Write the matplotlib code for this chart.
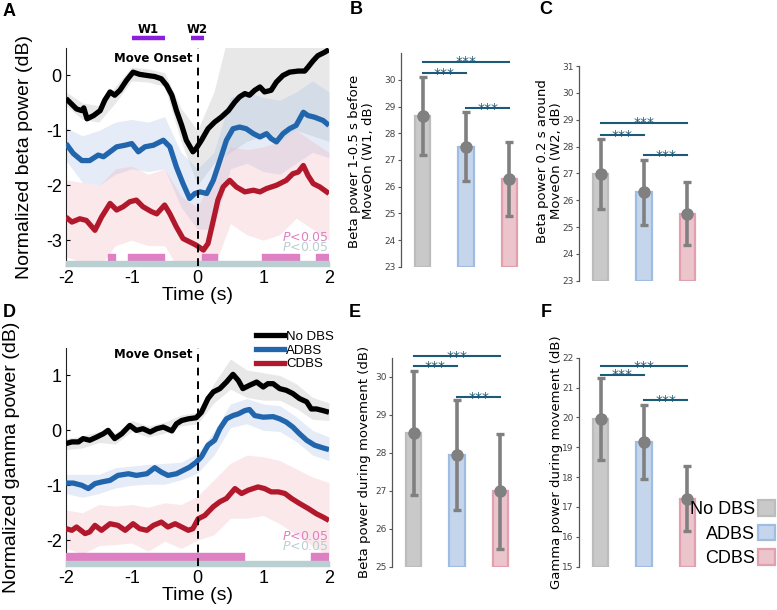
import matplotlib
matplotlib.use("Agg")
import matplotlib.pyplot as plt
from matplotlib.patches import Patch
from matplotlib.lines import Line2D

plt.rcParams['axes.unicode_minus'] = False

# ---------------- data ----------------
conds = ['No DBS', 'ADBS', 'CDBS']
line_colors = ['#000000', '#2166ac', '#b2182b']
band_colors = ['#b5b5b5', '#a9c3e6', '#f2b3bd']
bar_faces = ['#c9c9c9', '#c5d6ec', '#ecc4cc']
bar_edges = ['#bcbcbc', '#9fbde2', '#e2a0ae']

# panel A: beta traces
beta_t_nodbs = [-2.00, -1.84, -1.76, -1.73, -1.68, -1.58, -1.48, -1.41, -1.33, -1.26, -1.18, -1.08, -0.98,
                -0.88, -0.77, -0.65, -0.55, -0.47, -0.39, -0.32, -0.24, -0.17, -0.07, -0.02, 0.06, 0.16,
                0.26, 0.36, 0.47, 0.57, 0.64, 0.72, 0.79, 0.87, 0.95, 1.02, 1.12, 1.20, 1.30, 1.40, 1.53,
                1.63, 1.68, 1.76, 1.83, 1.93, 2.00]
beta_nodbs = [-0.42, -0.61, -0.64, -0.59, -0.79, -0.73, -0.64, -0.45, -0.30, -0.36, -0.27, -0.09, 0.06,
              0.02, 0.00, -0.02, -0.06, -0.18, -0.36, -0.64, -0.91, -1.18, -1.39, -1.33, -1.18, -0.97,
              -0.85, -0.76, -0.64, -0.48, -0.39, -0.33, -0.36, -0.27, -0.21, -0.30, -0.27, -0.12, 0.00, 0.06, 0.08,
              0.08, 0.15, 0.27, 0.36, 0.42, 0.47]
beta_t_adbs = [-2.00, -1.89, -1.76, -1.64, -1.51, -1.43, -1.33, -1.23, -1.10, -1.00, -0.90, -0.80, -0.67,
               -0.52, -0.42, -0.32, -0.22, -0.12, -0.04, 0.04, 0.14, 0.24, 0.34, 0.44, 0.54, 0.64, 0.74,
               0.85, 0.95, 1.05, 1.12, 1.20, 1.30, 1.40, 1.50, 1.61, 1.68, 1.78, 1.91, 2.00]
beta_adbs = [-1.24, -1.42, -1.55, -1.55, -1.45, -1.48, -1.39, -1.30, -1.27, -1.24, -1.39, -1.30, -1.27,
             -1.18, -1.30, -1.67, -1.97, -2.24, -2.15, -2.12, -2.15, -1.91, -1.55, -1.18, -0.97, -0.94, -0.97,
             -1.06, -1.12, -1.06, -1.15, -1.21, -1.06, -0.97, -0.91, -0.67, -0.73, -0.76, -0.82, -0.91]
beta_t_cdbs = [-2.00, -1.91, -1.79, -1.69, -1.56, -1.46, -1.33, -1.23, -1.13, -1.03, -0.93, -0.83, -0.70,
               -0.62, -0.50, -0.42, -0.32, -0.22, -0.12, -0.02, 0.09, 0.16, 0.24, 0.31, 0.39, 0.49, 0.59,
               0.72, 0.85, 0.95, 1.05, 1.20, 1.35, 1.45, 1.53, 1.61, 1.68, 1.76, 1.86, 2.00]
beta_cdbs = [-2.58, -2.67, -2.61, -2.64, -2.82, -2.58, -2.33, -2.45, -2.39, -2.30, -2.27, -2.39, -2.48,
             -2.52, -2.36, -2.52, -2.76, -2.97, -3.03, -3.09, -3.18, -3.06, -2.64, -2.27, -2.03, -1.91, -2.03,
             -2.12, -2.09, -2.12, -2.06, -2.00, -1.91, -1.79, -1.76, -1.64, -1.82, -1.97, -2.03, -2.15]

band_t = [-2, -1.75, -1.5, -1.25, -1, -0.75, -0.5, -0.25, 0, 0.25, 0.5, 0.75, 1, 1.25, 1.5, 1.75, 2]
beta_nodbs_hi = [-0.3, -0.5, -0.55, -0.2, 0.15, 0.12, 0.05, -0.6, -1.0, -0.3, 0.9, 0.9, 0.9, 0.9, 0.9, 0.9, 0.9]
beta_nodbs_lo = [-0.55, -0.8, -0.85, -0.5, -0.1, -0.12, -0.2, -1.2, -2.0, -1.6, -1.4, -1.2, -1.1, -1.2, -1.0, -1.1, -1.2]
beta_adbs_hi = [-0.95, -1.1, -1.0, -0.85, -0.8, -0.85, -0.75, -1.4, -1.7, -1.4, -0.4, -0.3, -0.4, -0.45, -0.3, -0.1, -0.3]
beta_adbs_lo = [-1.55, -1.95, -2.0, -1.8, -1.7, -1.75, -1.7, -2.4, -2.8, -2.8, -1.7, -1.6, -1.75, -1.8, -1.6, -1.4, -1.5]
beta_cdbs_hi = [-1.9, -1.95, -2.0, -1.7, -1.65, -1.8, -1.7, -2.2, -2.4, -1.8, -1.3, -1.35, -1.3, -1.2, -1.0, -1.2, -1.4]
beta_cdbs_lo = [-3.3, -3.4, -3.5, -3.1, -3.0, -3.1, -3.1, -3.6, -3.8, -3.5, -2.7, -2.9, -3.0, -2.9, -2.6, -2.8, -3.0]

beta_sig_pink = [(-1.357, -1.256), (-1.053, -0.508), (0.073, 0.294), (0.977, 1.539), (1.797, 2.0)]
beta_sig_gray = [(-2.0, 2.0)]
windows = [('W1', -1.0, -0.5), ('W2', -0.1, 0.1)]

# panel D: gamma traces
gam_t_nodbs = [-2.00, -1.91, -1.81, -1.74, -1.64, -1.53, -1.43, -1.36, -1.26, -1.15, -1.03, -0.93, -0.83,
               -0.72, -0.62, -0.52, -0.39, -0.32, -0.24, -0.14, -0.02, 0.06, 0.16, 0.24, 0.34, 0.44, 0.54,
               0.62, 0.69, 0.79, 0.90, 1.00, 1.07, 1.15, 1.25, 1.35, 1.45, 1.55, 1.66, 1.73, 1.81, 1.91, 2.00]
gam_nodbs = [-0.24, -0.21, -0.21, -0.15, -0.18, -0.12, -0.06, 0.00, -0.15, -0.06, 0.09, 0.00, 0.03,
             -0.03, 0.03, 0.06, -0.01, 0.12, 0.18, 0.21, 0.23, 0.33, 0.58, 0.70, 0.76, 0.88, 1.02,
             0.91, 0.76, 0.82, 0.88, 0.79, 0.85, 0.85, 0.76, 0.73, 0.67, 0.58, 0.52, 0.39, 0.39, 0.36, 0.33]
gam_t_adbs = [-2.00, -1.89, -1.76, -1.66, -1.56, -1.46, -1.33, -1.21, -1.05, -0.93, -0.77, -0.65, -0.55,
              -0.45, -0.32, -0.22, -0.12, -0.02, 0.06, 0.16, 0.26, 0.34, 0.44, 0.54, 0.62, 0.72, 0.79,
              0.87, 1.00, 1.15, 1.25, 1.35, 1.45, 1.55, 1.66, 1.78, 1.91, 2.00]
gam_adbs = [-0.96, -0.96, -1.00, -1.06, -0.97, -0.94, -0.91, -0.82, -0.79, -0.82, -0.79, -0.68, -0.76,
            -0.82, -0.79, -0.73, -0.67, -0.58, -0.48, -0.27, -0.18, 0.03, 0.21, 0.27, 0.30, 0.36, 0.38,
            0.27, 0.24, 0.25, 0.21, 0.15, 0.06, -0.06, -0.18, -0.27, -0.32, -0.35]
gam_t_cdbs = [-2.00, -1.91, -1.84, -1.71, -1.64, -1.56, -1.46, -1.33, -1.21, -1.10, -0.98, -0.88, -0.77,
              -0.67, -0.55, -0.45, -0.34, -0.24, -0.14, -0.07, 0.01, 0.11, 0.24, 0.34, 0.44, 0.57, 0.67,
              0.77, 0.92, 1.02, 1.12, 1.23, 1.33, 1.43, 1.55, 1.68, 1.81, 1.91, 2.00]
gam_cdbs = [-1.79, -1.82, -1.76, -1.88, -1.85, -1.73, -1.82, -1.70, -1.73, -1.82, -1.70, -1.79, -1.82,
            -1.73, -1.67, -1.76, -1.70, -1.76, -1.82, -1.79, -1.61, -1.55, -1.39, -1.30, -1.24, -1.06, -1.15,
            -1.09, -1.03, -1.06, -1.12, -1.12, -1.15, -1.24, -1.33, -1.42, -1.52, -1.58, -1.64]

gam_nodbs_hi = [-0.15, -0.1, -0.02, -0.05, 0.18, 0.08, 0.15, 0.28, 0.33, 0.85, 1.3, 1.1, 1.05, 1.0, 0.85, 0.6, 0.5]
gam_nodbs_lo = [-0.35, -0.32, -0.22, -0.25, -0.02, -0.12, -0.05, 0.08, 0.12, 0.5, 0.75, 0.6, 0.55, 0.55, 0.4, 0.2, 0.18]
gam_adbs_hi = [-0.8, -0.8, -0.8, -0.68, -0.65, -0.62, -0.6, -0.58, -0.42, -0.02, 0.48, 0.58, 0.48, 0.45, 0.25, 0.0, -0.12]
gam_adbs_lo = [-1.15, -1.22, -1.15, -1.05, -1.0, -0.98, -0.98, -0.9, -0.78, -0.45, 0.05, 0.12, 0.0, -0.02, -0.2, -0.45, -0.55]
gam_cdbs_hi = [-1.45, -1.5, -1.35, -1.38, -1.35, -1.4, -1.32, -1.35, -1.2, -0.9, -0.6, -0.45, -0.48, -0.55, -0.7, -0.85, -0.95]
gam_cdbs_lo = [-2.15, -2.25, -2.1, -2.08, -2.05, -2.2, -2.02, -2.15, -2.0, -1.9, -1.6, -1.6, -1.55, -1.7, -1.9, -2.1, -2.3]

gam_sig_pink = [(-2.0, 0.70), (1.73, 2.0)]
gam_sig_gray = [(-2.0, 2.0)]

# bar panels: mean, error, significance line heights
w1_mean = [28.65, 27.50, 26.30]
w1_err = [1.48, 1.29, 1.39]
w1_sig = [30.69, 30.25, 28.94]
w2_mean = [26.97, 26.30, 25.50]
w2_err = [1.30, 1.21, 1.17]
w2_sig = [28.89, 28.43, 27.68]
mov_beta_mean = [28.52, 27.93, 26.98]
mov_beta_err = [1.62, 1.45, 1.52]
mov_beta_sig = [30.55, 30.28, 29.46]
mov_gam_mean = [19.94, 19.18, 17.27]
mov_gam_err = [1.37, 1.25, 1.09]
mov_gam_sig = [21.72, 21.43, 20.58]

# ---------------- figure ----------------
fig = plt.figure(figsize=(7.77, 6.10), dpi=100)
W, H = 777.0, 610.0


def px_axes(l, t, r, b):
    return fig.add_axes([l / W, 1 - b / H, (r - l) / W, (b - t) / H])


LFONT = 'Liberation Sans'


def trace_panel(ax, traces, bands, pink, gray, ylim, yticks, ylabel, label_x, onset_y,
                sig_y, ptext_y):
    for (lo, hi), c in zip(bands, band_colors):
        ax.fill_between(band_t, lo, hi, color=c, alpha=0.3, lw=0)
    for (t, v), c in zip(traces, line_colors):
        ax.plot(t, v, color=c, lw=3.8, solid_capstyle='butt', zorder=3)
    ax.broken_barh([(a, b - a) for a, b in pink], (sig_y[0], sig_y[1]),
                   color='#de80c3', zorder=4)
    ax.broken_barh([(a, b - a) for a, b in gray], (sig_y[2], sig_y[3]),
                   color='#b9cfd2', zorder=4)
    ax.axvline(0, color='black', lw=1.4, ls=(0, (4, 3)), zorder=5)
    ax.text(-0.07, onset_y, 'Move Onset', ha='right', va='center', fontsize=8.5,
            fontweight='bold')
    ax.text(2.0, ptext_y[0], r'$\it{P}$<0.05', ha='right', va='center', fontsize=9,
            color='#de80c3')
    ax.text(2.0, ptext_y[1], r'$\it{P}$<0.05', ha='right', va='center', fontsize=9,
            color='#b9cfd2')
    ax.set_xlim(-2, 2)
    ax.set_ylim(*ylim)
    ax.set_xticks([-2, -1, 0, 1, 2])
    ax.set_yticks(yticks)
    for lab in ax.get_xticklabels() + ax.get_yticklabels():
        lab.set_fontfamily(LFONT)
    ax.tick_params(direction='in', length=3, labelsize=13, pad=3, width=0.8)
    ax.set_xlabel('Time (s)', fontsize=14, fontfamily=LFONT, labelpad=0)
    ax.set_ylabel(ylabel, fontsize=14, fontfamily=LFONT)
    ax.yaxis.set_label_coords(label_x, 0.5)
    for s in ['top', 'right']:
        ax.spines[s].set_visible(False)
    for s in ['left', 'bottom']:
        ax.spines[s].set_linewidth(0.8)
        ax.spines[s].set_color('#222222')


axA = px_axes(66, 48, 329, 266)
trace_panel(axA,
            [(beta_t_nodbs, beta_nodbs), (beta_t_adbs, beta_adbs), (beta_t_cdbs, beta_cdbs)],
            [(beta_nodbs_lo, beta_nodbs_hi), (beta_adbs_lo, beta_adbs_hi), (beta_cdbs_lo, beta_cdbs_hi)],
            beta_sig_pink, beta_sig_gray, (-3.47, 0.5), [-3, -2, -1, 0],
            'Normalized beta power (dB)', -0.125, 0.31,
            (-3.375, 0.115, -3.47, 0.09), (-2.96, -3.14))
for name, a, b in windows:
    axA.plot([a, b], [0.68, 0.68], color='#8a1fdc', lw=3.2, clip_on=False,
             solid_capstyle='butt')
    axA.text((a + b) / 2, 0.72, name, ha='center', va='bottom', fontsize=8.5,
             fontweight='bold', clip_on=False)

axD = px_axes(66, 348, 329, 566)
trace_panel(axD,
            [(gam_t_nodbs, gam_nodbs), (gam_t_adbs, gam_adbs), (gam_t_cdbs, gam_cdbs)],
            [(gam_nodbs_lo, gam_nodbs_hi), (gam_adbs_lo, gam_adbs_hi), (gam_cdbs_lo, gam_cdbs_hi)],
            gam_sig_pink, gam_sig_gray, (-2.47, 1.5), [-2, -1, 0, 1],
            'Normalized gamma power (dB)', -0.176, 1.39,
            (-2.38, 0.14, -2.47, 0.09), (-1.93, -2.12))
handles = [Line2D([], [], color=c, lw=3.8) for c in line_colors]
axD.legend(handles, conds, loc='upper left', bbox_to_anchor=(0.724, 1.08),
           frameon=False, borderpad=0, borderaxespad=0, handlelength=2.1,
           handletextpad=0.15, labelspacing=0.12, prop={'family': LFONT, 'size': 9.5})


def bar_panel(ax, means, errs, sig, ylim, yticks, ylabel, label_x, label_y):
    x = [1, 2, 3]
    ax.bar(x, [m - ylim[0] for m in means], bottom=ylim[0], width=0.36,
           color=bar_faces, edgecolor=bar_edges, lw=1.6, zorder=1)
    ax.errorbar(x, means, yerr=errs, fmt='o', color='#808080', ms=8, lw=2.6,
                capsize=3, capthick=2.4, zorder=3)
    pairs = [(1, 3), (1, 2), (2, 3)]
    for (a, b), y in zip(pairs, sig):
        ax.plot([a, b], [y, y], color='#1d5a78', lw=1.5, zorder=4, clip_on=False)
        ax.annotate('***', ((a + b) / 2, y), xytext=(0, -3.4), textcoords='offset points',
                    ha='center', va='baseline', fontsize=10, color='#1d5a78',
                    annotation_clip=False)
    ax.set_xlim(0.5, 3.5)
    ax.set_ylim(*ylim)
    ax.set_yticks(yticks)
    ax.set_xticks([])
    ax.tick_params(axis='y', direction='out', length=2.5, width=0.8, labelsize=6.5,
                   labelcolor='#444444', color='#555555', pad=1.5)
    for s in ['top', 'right', 'bottom']:
        ax.spines[s].set_visible(False)
    ax.spines['left'].set_color('#555555')
    ax.spines['left'].set_linewidth(0.9)
    ax.set_ylabel(ylabel, fontsize=9.5, linespacing=1.15)
    ax.yaxis.set_label_coords(label_x, label_y)


axB = px_axes(401, 53.3, 531, 266.7)
bar_panel(axB, w1_mean, w1_err, w1_sig, (23, 31), range(23, 31),
          'Beta power 1-0.5 s before\nMoveOn (W1, dB)', -0.2, 0.495)
axC = px_axes(579, 66, 709, 280.7)
bar_panel(axC, w2_mean, w2_err, w2_sig, (23, 31), range(23, 32),
          'Beta power 0.2 s around\nMoveOn (W2, dB)', -0.122, 0.557)
axE = px_axes(392, 357.7, 522, 566.7)
bar_panel(axE, mov_beta_mean, mov_beta_err, mov_beta_sig, (25, 30.5), range(25, 31),
          'Beta power during movement (dB)', -0.16, 0.5)
axF = px_axes(579, 357.7, 709, 566.7)
bar_panel(axF, mov_gam_mean, mov_gam_err, mov_gam_sig, (15, 22), range(15, 23),
          'Gamma power during movement (dB)', -0.125, 0.5)

patches = [Patch(facecolor=f, edgecolor=e, lw=1.6) for f, e in zip(bar_faces, bar_edges)]
fig.legend(patches, conds, loc='upper right', bbox_to_anchor=(0.998, 0.180),
           frameon=False, markerfirst=False, borderpad=0, borderaxespad=0,
           handlelength=0.95, handleheight=0.95, handletextpad=0.2, labelspacing=0.36,
           prop={'family': LFONT, 'size': 13})

for letter, x, y in [('A', 9, 11), ('B', 356, 10), ('C', 546, 10),
                     ('D', 9, 313), ('E', 355, 313), ('F', 546, 313)]:
    fig.text(x / W, 1 - y / H, letter, ha='center', va='center', fontsize=13,
             fontweight='bold', fontfamily=LFONT)

fig.savefig('out.png', dpi=100)
